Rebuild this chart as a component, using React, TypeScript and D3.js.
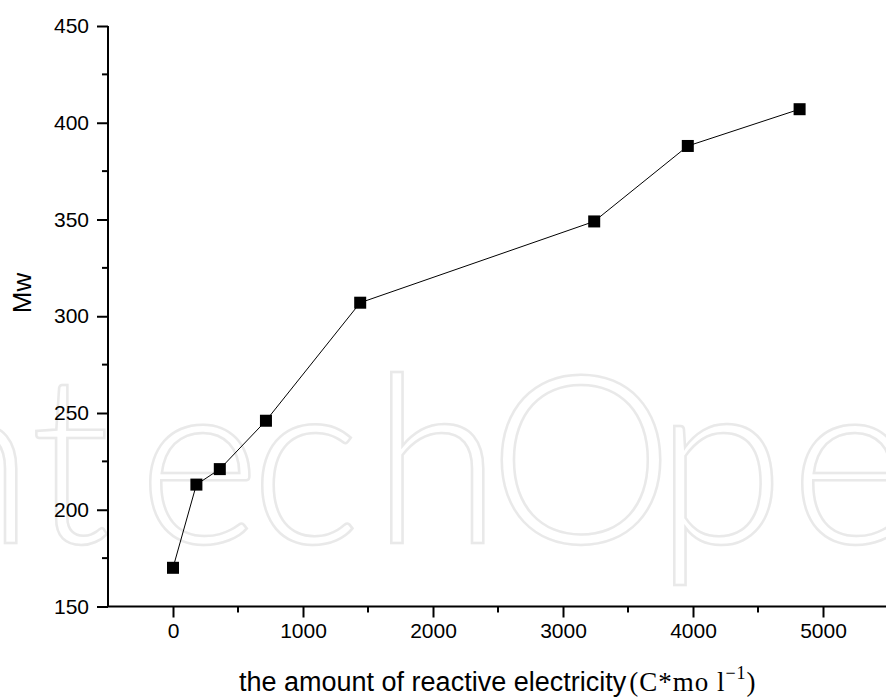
import React, { useEffect, useRef } from "react";
import * as d3 from "d3";

const xValues = [0, 180, 360, 715, 1440, 3240, 3960, 4820];
const yValues = [170, 213, 221, 246, 307, 349, 388, 407];
const xTicks = [0, 1000, 2000, 3000, 4000, 5000];
const yTicks = [150, 200, 250, 300, 350, 400, 450];
const watermarkLetters = ["n", "t", "e", "c", "h", "O", "p", "e"];
const watermarkX = [-95, 30, 138, 250, 372, 488, 655, 790];

const W = 886;
const H = 697;

export default function App() {
  const ref = useRef<SVGSVGElement>(null);
  useEffect(() => {
    const svg = d3.select(ref.current);
    svg.selectAll("*").remove();
    const x = d3.scaleLinear().domain([-500, 5500]).range([108, 888]);
    const y = d3.scaleLinear().domain([150, 450]).range([606.5, 26]);

    // watermark
    const wm = svg
      .append("text")
      .attr("y", 543)
      .attr("font-family", "Lato, 'Open Sans', sans-serif")
      .attr("font-weight", 300)
      .attr("font-size", 235)
      .attr("fill", "#ffffff")
      .attr("stroke", "#e9e9e9")
      .attr("stroke-width", 2.5);
    watermarkLetters.forEach((l, i) => {
      wm.append("tspan").attr("x", watermarkX[i]).text(l);
    });

    const font = "Arial, 'Liberation Sans', Helvetica, sans-serif";

    // x axis
    const xAxis = d3
      .axisBottom(x)
      .tickValues(xTicks)
      .tickSize(11)
      .tickPadding(6)
      .tickFormat(d3.format("d") as any);
    const gx = svg.append("g").attr("transform", `translate(0,${y(150)})`).call(xAxis);
    gx.select(".domain").attr("d", `M108,0H886`).attr("stroke-width", 2);
    gx.selectAll(".tick line").attr("stroke-width", 2);
    gx.selectAll(".tick text").attr("font-family", font).attr("font-size", 21).attr("fill", "#000");
    const xMinor = d3.range(-500, 5501, 1000).filter((v) => v > -500 && v < 5500);
    gx.selectAll(".minor")
      .data(xMinor)
      .enter()
      .append("line")
      .attr("x1", (d) => x(d))
      .attr("x2", (d) => x(d))
      .attr("y1", 0)
      .attr("y2", 6)
      .attr("stroke", "#000")
      .attr("stroke-width", 2);

    // y axis
    const yAxis = d3.axisLeft(y).tickValues(yTicks).tickSize(11).tickPadding(8);
    const gy = svg.append("g").attr("transform", `translate(${x(-500)},0)`).call(yAxis);
    gy.select(".domain").attr("d", `M0,${y(450)}V${y(150)}`).attr("stroke-width", 2);
    gy.selectAll(".tick line").attr("stroke-width", 2);
    gy.selectAll(".tick text").attr("font-family", font).attr("font-size", 21).attr("fill", "#000");
    const yMinor = d3.range(175, 450, 50);
    gy.selectAll(".minor")
      .data(yMinor)
      .enter()
      .append("line")
      .attr("x1", 0)
      .attr("x2", -6)
      .attr("y1", (d) => y(d))
      .attr("y2", (d) => y(d))
      .attr("stroke", "#000")
      .attr("stroke-width", 2);

    // line
    const pts = xValues.map((v, i) => [v, yValues[i]] as [number, number]);
    const line = d3
      .line<[number, number]>()
      .x((d) => x(d[0]))
      .y((d) => y(d[1]));
    svg.append("path").attr("d", line(pts)).attr("fill", "none").attr("stroke", "#000").attr("stroke-width", 1);
    const s = 12;
    svg
      .selectAll(".pt")
      .data(pts)
      .enter()
      .append("rect")
      .attr("x", (d) => x(d[0]) - s / 2)
      .attr("y", (d) => y(d[1]) - s / 2)
      .attr("width", s)
      .attr("height", s)
      .attr("fill", "#000");

    // axis titles
    const t = svg
      .append("text")
      .attr("x", 239)
      .attr("y", 691)
      .attr("font-family", font)
      .attr("font-size", 27)
      .attr("fill", "#000");
    t.append("tspan").text("the amount of reactive electricity");
    const u = t
      .append("tspan")
      .attr("font-family", "'Liberation Serif', 'DejaVu Serif', serif")
      .attr("font-size", 27)
      .attr("letter-spacing", 1);
    u.append("tspan").attr("dx", 3).text("(C*mo l");
    u.append("tspan").attr("dy", -12).attr("font-size", 18).text("−1");
    u.append("tspan").attr("dy", 12).text(")");

    svg
      .append("text")
      .attr("transform", `translate(31,293) rotate(-90)`)
      .attr("text-anchor", "middle")
      .attr("font-family", font)
      .attr("font-size", 26)
      .attr("fill", "#000")
      .text("Mw");
  }, []);
  return (
    <svg
      ref={ref}
      width={W}
      height={H}
      style={{ position: "absolute", left: 0, top: 0, background: "#fff" }}
    />
  );
}
